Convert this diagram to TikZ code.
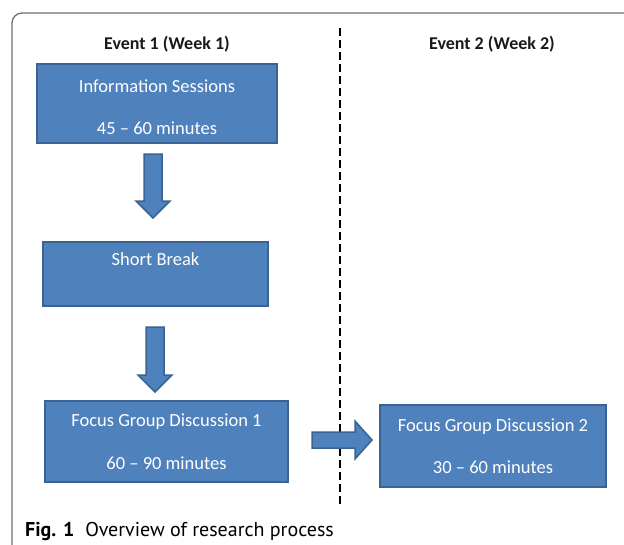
\documentclass[tikz,border=0pt]{standalone}
\usepackage{fontspec}
\setmainfont{Carlito}
\newfontfamily\capfont{PT Sans}
\usetikzlibrary{calc,shadows}
\definecolor{boxblue}{HTML}{4F81BD}
\definecolor{boxedge}{HTML}{3A6292}
\definecolor{framegray}{HTML}{6E6E6E}
\tikzset{
  stage/.style={draw=boxedge, fill=boxblue, line width=1.8pt, text=white,
    align=center, font=\fontsize{18.5}{22}\selectfont,
    drop shadow={opacity=0.18, shadow xshift=1pt, shadow yshift=1.5pt}},
  fatarrow/.style={draw=boxedge, fill=boxblue, line width=1.5pt, line join=miter},
  eventhead/.style={font=\fontsize{18}{22}\selectfont\bfseries, text=black!90},
}
% block arrow: start point, rotation, length, shaft half width, head half width
\def\blockarrow(#1)[#2](#3:#4:#5){%
  \begin{scope}[shift={(#1)}, rotate=#2]
    \draw[fatarrow] (0,-#4) -- (#3-17,-#4) -- (#3-17,-#5) -- (#3,0)
      -- (#3-17,#5) -- (#3-17,#4) -- (0,#4) -- cycle;
  \end{scope}}

\begin{document}
\begin{tikzpicture}[x=1pt, y=-1pt]
		%%%%% START %%%%%
		\useasboundingbox (0,0) rectangle (624,544);
		
		% outer frame
		\draw[framegray, line width=1.3pt, rounded corners=10pt] (12,560) -- (12,13) -- (640,13);
		
		% headings and the week divider
		\node[eventhead] (ev1) at (167,44) {Event 1 (Week 1)};
		\node[eventhead] (ev2) at (492,44) {Event 2 (Week 2)};
		\coordinate (dtop) at (340,28);
		\coordinate (dbot) at (340,508);
		\draw[line width=2.8pt, dash pattern=on 7.5pt off 4.5pt] (dtop) -- (dbot);
		
		% week 1
		\node[stage, minimum width=240, minimum height=79] (info) at (157,103.5)
		  {\rule{0pt}{21pt}Information Sessions\\[20pt]45 -- 60 minutes};
		\node[stage, minimum width=225, minimum height=64] (brk) at (155.5,274)
		  {Short Break\\[2pt]\strut};
		\node[stage, minimum width=243, minimum height=81] (fgd1) at (166.5,441.5)
		  {Focus Group Discussion 1\\[21pt]60 -- 90 minutes};
		
		% week 2
		\node[stage, minimum width=226, minimum height=82] (fgd2) at (493,446)
		  {Focus Group Discussion 2\\[20pt]30 -- 60 minutes};
		
		% block arrows
		\coordinate (a1) at (153,154);
		\coordinate (a2) at (155,327);
		\coordinate (a3) at (312,440);
		\blockarrow(a1)[-90](64:9:17)
		\blockarrow(a2)[-90](65:9:17)
		\blockarrow(a3)[0](60:8:19)
		
		% caption
		\node[anchor=base west, inner sep=0pt, font=\capfont\fontsize{20}{24}\selectfont] (cap) at (25,536)
		  {\textbf{Fig. 1}\hspace{11pt}Overview of research process};
		%%%%% END %%%%%
\end{tikzpicture}
\end{document}
